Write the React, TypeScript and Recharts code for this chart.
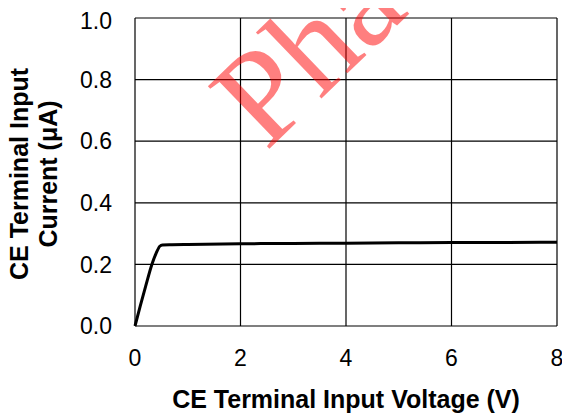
import { CartesianGrid, Line, LineChart, XAxis, YAxis } from "recharts";

const voltage = [0, 0.1, 0.2, 0.32, 0.4, 0.47, 0.52, 0.7, 1, 2, 3, 4, 5, 6, 7, 8];
const current = [0, 0.065, 0.128, 0.2, 0.236, 0.259, 0.263, 0.264, 0.265, 0.267, 0.268, 0.269, 0.27, 0.271, 0.271, 0.272];
const xTicks = [0, 2, 4, 6, 8];
const yTicks = [0, 0.2, 0.4, 0.6, 0.8, 1.0];

const data = voltage.map((v, i) => ({ v, i: current[i] }));

const FONT = "'Liberation Sans', Arial, Helvetica, sans-serif";

function YLabel(props: any) {
  const vb = props.viewBox;
  const cy = vb.y + vb.height / 2 + 2;
  const x1 = vb.x + 20;
  const x2 = vb.x + 49;
  return (
    <g fontFamily={FONT} fontWeight="bold" fontSize={25} fill="#000" textAnchor="middle">
      <text x={x1} y={cy} transform={`rotate(-90, ${x1}, ${cy})`}>CE Terminal Input</text>
      <text x={x2} y={cy} transform={`rotate(-90, ${x2}, ${cy})`}>Current (μA)</text>
    </g>
  );
}

function XLabel(props: any) {
  const vb = props.viewBox;
  return (
    <text x={vb.x + vb.width / 2} y={400} fontFamily={FONT} fontWeight="bold" fontSize={25} fill="#000" textAnchor="middle">
      CE Terminal Input Voltage (V)
    </text>
  );
}

export default function App() {
  return (
    <div style={{ position: "relative", width: 562, height: 409 }}>
      <LineChart width={562} height={409} data={data} margin={{ top: 10, right: 13, left: 0, bottom: 0 }}>
        <CartesianGrid stroke="#000" strokeWidth={1.2} />
        <XAxis
          dataKey="v"
          type="number"
          domain={[0, 8]}
          ticks={xTicks}
          height={91}
          axisLine={false}
          tickLine={false}
          tickSize={0}
          tickMargin={24}
          tick={{ fill: "#000", fontSize: 23, fontFamily: FONT }}
          label={{ content: XLabel }}
        />
        <YAxis
          type="number"
          domain={[0, 1]}
          ticks={yTicks}
          width={127}
          axisLine={false}
          tickLine={false}
          tickSize={0}
          tickMargin={23}
          tickFormatter={(t: number) => t.toFixed(1)}
          tick={{ fill: "#000", fontSize: 23, fontFamily: FONT }}
          label={{ content: YLabel }}
        />
        <Line dataKey="i" type="monotone" stroke="#000" strokeWidth={3} dot={false} isAnimationActive={false} />
      </LineChart>
      <svg width={570} height={417} style={{ position: "absolute", left: -8, top: -8, pointerEvents: "none" }}>
        <text
          x={266}
          y={152}
          transform="rotate(-44, 266, 152)"
          fontFamily="'Liberation Serif', 'Times New Roman', serif"
          fontSize={134}
          fill="rgba(255,0,0,0.5)"
        >
          Phase
        </text>
      </svg>
    </div>
  );
}
